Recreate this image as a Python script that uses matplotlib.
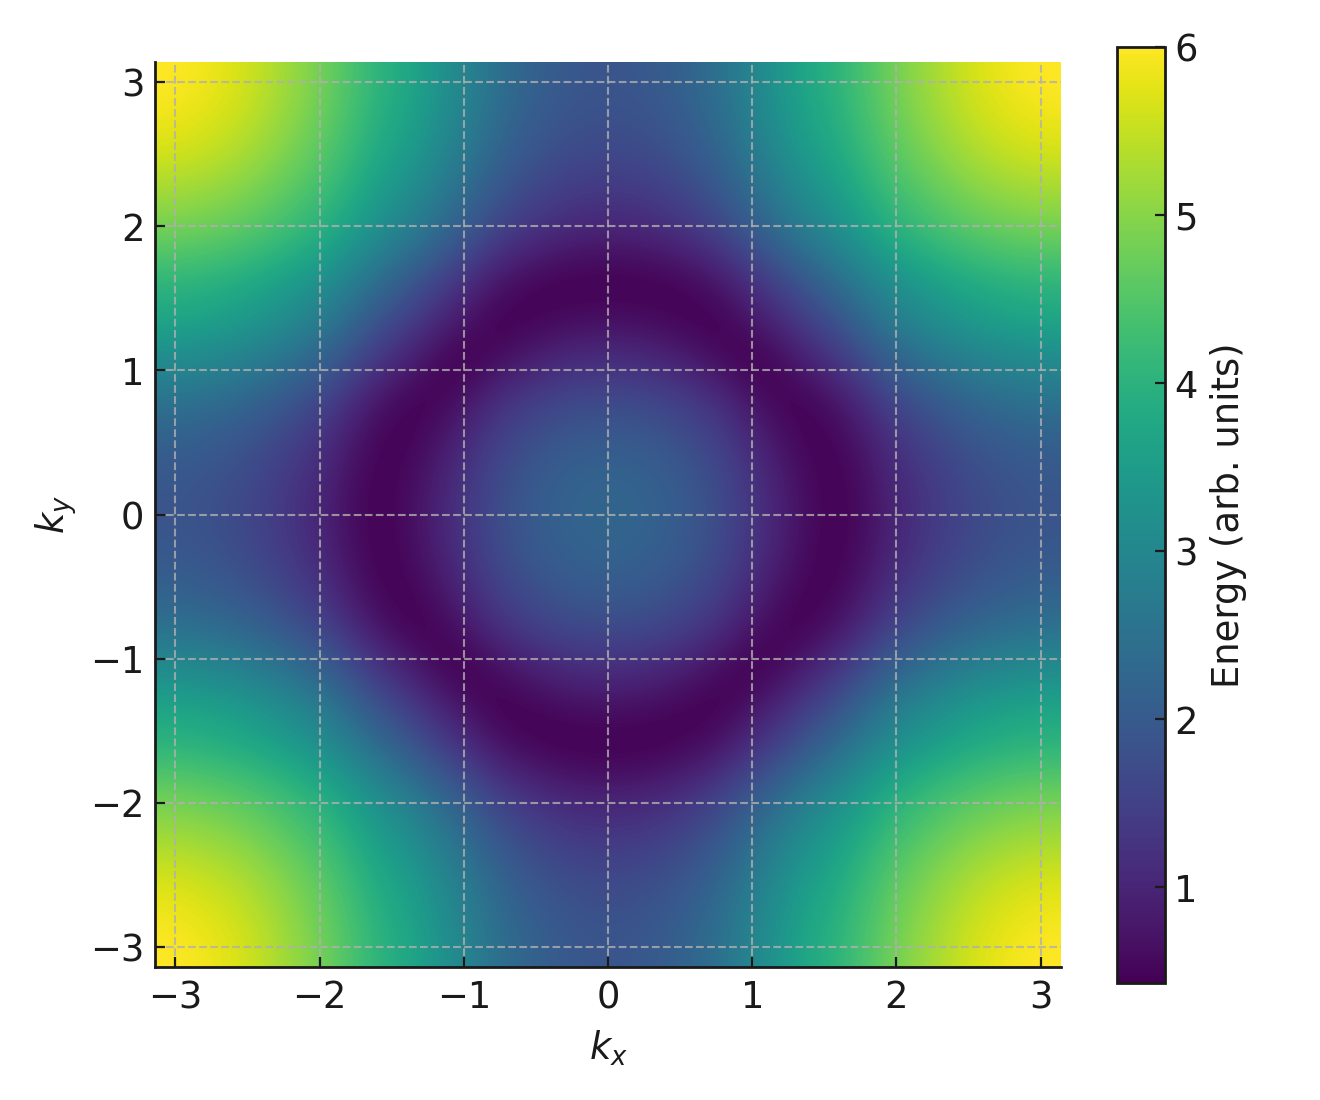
import numpy as np
import matplotlib
matplotlib.use("Agg")
import matplotlib.pyplot as plt

energy_quadrant = [
 [2.24,2.21,2.12,1.93,1.68,1.33,0.96,0.62,0.45,0.60,0.96,1.23,1.47,1.66,1.79,1.87,1.90],
 [2.21,2.18,2.09,1.90,1.65,1.29,0.93,0.60,0.45,0.63,1.00,1.27,1.51,1.70,1.83,1.91,1.94],
 [2.12,2.09,1.98,1.80,1.55,1.19,0.83,0.53,0.46,0.71,1.10,1.38,1.61,1.81,1.93,2.02,2.05],
 [1.93,1.90,1.80,1.62,1.37,1.01,0.67,0.46,0.54,0.87,1.28,1.57,1.81,2.00,2.13,2.22,2.25],
 [1.68,1.65,1.55,1.37,1.13,0.77,0.50,0.49,0.73,1.12,1.55,1.84,2.08,2.28,2.40,2.49,2.52],
 [1.33,1.29,1.19,1.01,0.77,0.49,0.49,0.77,1.10,1.52,1.95,2.25,2.49,2.69,2.82,2.91,2.93],
 [0.96,0.93,0.83,0.67,0.50,0.49,0.75,1.11,1.47,1.90,2.34,2.64,2.89,3.08,3.21,3.30,3.33],
 [0.62,0.60,0.53,0.46,0.49,0.77,1.11,1.51,1.87,2.31,2.76,3.05,3.30,3.50,3.63,3.72,3.75],
 [0.45,0.45,0.46,0.54,0.73,1.10,1.47,1.87,2.25,2.69,3.10,3.38,3.60,3.78,3.90,3.98,4.00],
 [0.60,0.63,0.71,0.87,1.12,1.52,1.90,2.31,2.69,3.10,3.50,3.78,4.00,4.18,4.30,4.38,4.40],
 [0.96,1.00,1.10,1.28,1.55,1.95,2.34,2.76,3.10,3.50,3.90,4.15,4.38,4.55,4.68,4.75,4.78],
 [1.23,1.27,1.38,1.57,1.84,2.25,2.64,3.05,3.38,3.78,4.15,4.42,4.65,4.85,4.98,5.08,5.10],
 [1.47,1.51,1.61,1.81,2.08,2.49,2.89,3.30,3.60,4.00,4.38,4.65,4.90,5.12,5.27,5.37,5.40],
 [1.66,1.70,1.81,2.00,2.28,2.69,3.08,3.50,3.78,4.18,4.55,4.85,5.12,5.35,5.52,5.64,5.68],
 [1.79,1.83,1.93,2.13,2.40,2.82,3.21,3.63,3.90,4.30,4.68,4.98,5.27,5.52,5.70,5.82,5.87],
 [1.87,1.91,2.02,2.22,2.49,2.91,3.30,3.72,3.98,4.38,4.75,5.08,5.37,5.64,5.82,5.94,5.98],
 [1.90,1.94,2.05,2.25,2.52,2.93,3.33,3.75,4.00,4.40,4.78,5.10,5.40,5.68,5.87,5.98,6.02],
]
k_ticks = [-3, -2, -1, 0, 1, 2, 3]
cbar_ticks = [1, 2, 3, 4, 5, 6]
x_label = r"$k_x$"
y_label = r"$k_y$"
cbar_label = "Energy (arb. units)"
v_min, v_max = 0.43, 6.0

INK = "#1a1a1a"
W, H = 1320, 1100
q = np.array(energy_quadrant)
top = np.hstack([q[:, :0:-1], q])
grid = np.vstack([top[:0:-1], top])
n = grid.shape[0]
half = np.pi / (n - 1)

fig = plt.figure(figsize=(6.6, 5.5), dpi=200)
ax = fig.add_axes([155 / W, (H - 967) / H, 906 / W, 905 / H])
im = ax.imshow(grid, origin="lower", cmap="viridis", vmin=v_min, vmax=v_max,
               extent=[-np.pi - half, np.pi + half, -np.pi - half, np.pi + half],
               interpolation="bicubic", aspect="auto")
ax.set_xlim(-np.pi, np.pi)
ax.set_ylim(-np.pi, np.pi)
ax.set_xticks(k_ticks)
ax.set_yticks(k_ticks)
ax.tick_params(direction="in", length=3.5, width=0.8, labelsize=13.3, colors=INK)
ax.tick_params(axis="x", pad=4.5)
ax.tick_params(axis="y", pad=3.8)
ax.grid(True, color="#b0b0b0", alpha=0.8, linestyle="--", linewidth=0.75)
ax.set_axisbelow(False)
for s in ("top", "right"):
    ax.spines[s].set_visible(False)
for s in ("left", "bottom"):
    ax.spines[s].set_linewidth(1.0)
    ax.spines[s].set_color(INK)
ax.set_xlabel(x_label, fontsize=13.3, color=INK, labelpad=4.5)
ax.set_ylabel(y_label, fontsize=13.3, color=INK, labelpad=3.8)

cax = fig.add_axes([1117 / W, (H - 983) / H, 48 / W, 936 / H])
cb = fig.colorbar(im, cax=cax)
cb.set_ticks(cbar_ticks)
cb.ax.tick_params(direction="in", length=3.5, width=0.8, labelsize=13.3, colors=INK, pad=3.3)
cb.outline.set_linewidth(1.0)
cb.outline.set_edgecolor(INK)
cb.set_label(cbar_label, fontsize=13.3, color=INK, labelpad=4.4)

fig.savefig("out.png", dpi=200)
